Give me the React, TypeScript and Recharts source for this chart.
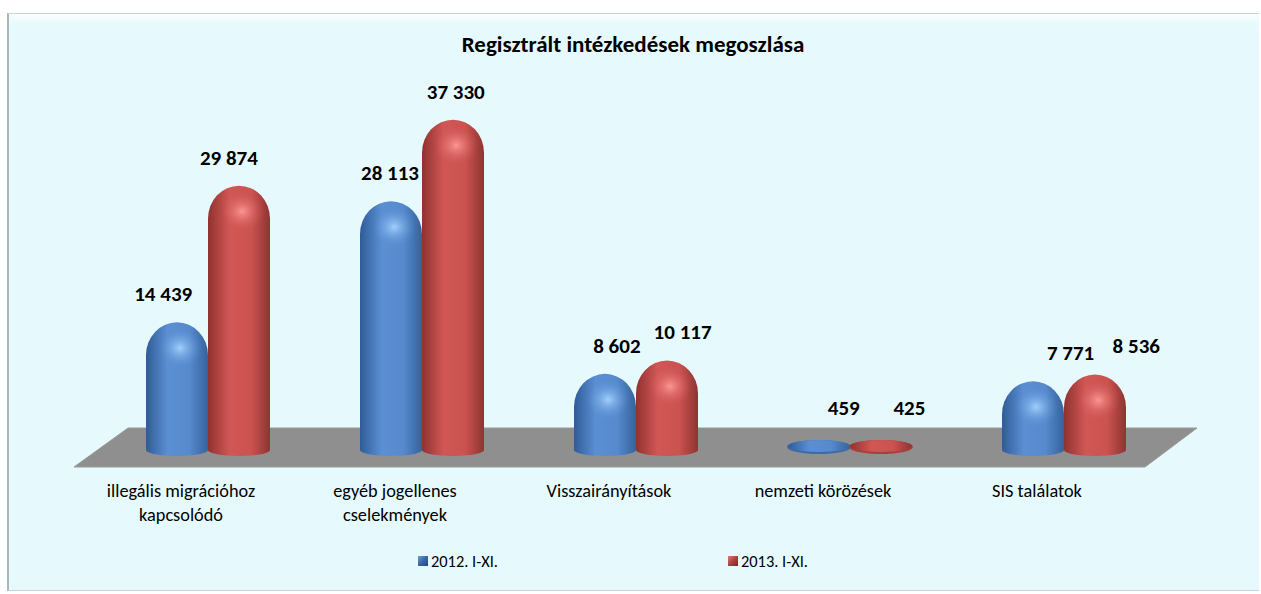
import React from 'react';
import * as Recharts from 'recharts';
import { BarChart, Bar, XAxis, YAxis, LabelList, Legend } from 'recharts';

// categories / series
const categories = [
  'illegális migrációhoz\nkapcsolódó',
  'egyéb jogellenes\ncselekmények',
  'Visszairányítások',
  'nemzeti körözések',
  'SIS találatok',
];
const series2012 = [14439, 28113, 8602, 459, 7771];
const series2013 = [29874, 37330, 10117, 425, 8536];
const seriesNames = ['2012. I-XI.', '2013. I-XI.'];

const data = categories.map((c, i) => ({ name: c, y2012: series2012[i], y2013: series2013[i] }));

const W = 1252;
const H = 578;
const MARGIN = { top: 83, right: 88, bottom: 0, left: 94 };
const FONT = "Carlito, Calibri, 'Liberation Sans', Arial, sans-serif";

const fmt = (v: number) => String(v).replace(/\B(?=(\d{3})+(?!\d))/g, ' ');

const makeShape = (kind: 'b' | 'r') => (props: any) => {
  const { x, y, width: w, height: h } = props;
  if (w == null || isNaN(y)) return null;
  const base = y + h;
  if (h < 12) {
    return (
      <g>
        <ellipse cx={x + w / 2} cy={base - 3} rx={w / 2 + 1} ry={7} fill={kind === 'b' ? '#3d6ba8' : '#a93f3d'} />
        <ellipse cx={x + w / 2} cy={base - 4} rx={w / 2} ry={6} fill={`url(#body-${kind})`} />
      </g>
    );
  }
  const rx = w / 2;
  const ry = Math.min(w / 2 + 2, h);
  const d = `M${x},${y + ry} A${rx},${ry} 0 0 1 ${x + w},${y + ry} L${x + w},${base} A${rx},6 0 0 1 ${x},${base} Z`;
  return (
    <g>
      <path d={d} fill={`url(#body-${kind})`} />
      <ellipse cx={x + w * 0.55} cy={y + ry * 0.78} rx={w * 0.36} ry={ry * 0.62} fill={`url(#hl-${kind})`} />
    </g>
  );
};

// labels drift sideways with the 3D perspective
const ValueLabel = (props: any) => {
  const { x, y, width, height, value } = props;
  const cx = x + width / 2;
  const lift = height < 12 ? 31 : 21;
  return (
    <text x={cx + (cx - 400) * 0.06} y={y - lift} textAnchor="middle" fontFamily={FONT} fontSize={21} fontWeight="bold" fill="#000">
      {fmt(value)}
    </text>
  );
};

const CatTick = (props: any) => {
  const { x, y, payload } = props;
  const lines = String(payload.value).split('\n');
  return (
    <text x={x - 27} y={y + 47} textAnchor="middle" fontFamily={FONT} fontSize={18.3} fill="#000">
      {lines.map((l, i) => (
        <tspan key={i} x={x - 27} dy={i === 0 ? 0 : 24}>{l}</tspan>
      ))}
    </text>
  );
};

const Floor = () => {
  const hook = (Recharts as any).usePlotArea;
  const area = hook ? hook() : null;
  const left = area ? area.x : MARGIN.left;
  const right = area ? area.x + area.width : W - MARGIN.right;
  const bottom = area ? area.y + area.height : 437;
  const pts = [
    [left + 27, bottom - 22],
    [right + 26, bottom - 22],
    [right - 26, bottom + 17],
    [left - 27, bottom + 17],
  ].map(p => p.join(',')).join(' ');
  return <polygon points={pts} fill="#8f8f8f" stroke="#9a9a9a" strokeWidth={1} />;
};

const LegendBox = () => (
  <div style={{ position: 'relative', height: 59, fontFamily: FONT, fontSize: 16.4, color: '#000' }}>
    {seriesNames.map((n, i) => (
      <div key={n} style={{ position: 'absolute', left: i === 0 ? 317 : 627, top: 19, display: 'flex', alignItems: 'center' }}>
        <span style={{
          width: 10, height: 10, marginRight: 3, display: 'inline-block',
          background: i === 0 ? 'linear-gradient(135deg,#6f9be0 0%,#3a66a8 50%,#24487c 100%)' : 'linear-gradient(135deg,#e07a78 0%,#b0403e 50%,#7c2624 100%)',
        }} />
        <span>{n}</span>
      </div>
    ))}
  </div>
);

export default function App() {
  return (
    <div style={{ position: 'absolute', left: 7, top: 13, width: W, height: H }}>
      <div style={{
        position: 'absolute', inset: 0, background: '#e6fafd',
        borderTop: '1px solid #c9d6d8', borderLeft: '2px solid #a7b8bb', borderBottom: '1px solid #c9d6d8',
        boxShadow: 'inset 2px 10px 8px -6px #ffffff',
        boxSizing: 'border-box',
      }} />
      <div style={{
        position: 'absolute', left: 0, width: W, top: 17, textAlign: 'center',
        fontFamily: FONT, fontSize: 23, fontWeight: 'bold', color: '#000',
      }}>
        Regisztrált intézkedések megoszlása
      </div>
      <div style={{ position: 'absolute', left: 0, top: 0 }}>
        <BarChart width={W} height={H} data={data} margin={MARGIN} barSize={62} barGap={0}>
          <defs>
            <linearGradient id="body-b" x1="0" y1="0" x2="1" y2="0">
              <stop offset="0" stopColor="#2f5c97" />
              <stop offset="0.35" stopColor="#5b8fd3" />
              <stop offset="0.7" stopColor="#568acd" />
              <stop offset="1" stopColor="#35629c" />
            </linearGradient>
            <linearGradient id="body-r" x1="0" y1="0" x2="1" y2="0">
              <stop offset="0" stopColor="#903230" />
              <stop offset="0.35" stopColor="#d15755" />
              <stop offset="0.7" stopColor="#ca524f" />
              <stop offset="1" stopColor="#8e3432" />
            </linearGradient>
            <radialGradient id="hl-b">
              <stop offset="0" stopColor="#a6d4ff" stopOpacity={0.95} />
              <stop offset="1" stopColor="#5a8ed2" stopOpacity={0} />
            </radialGradient>
            <radialGradient id="hl-r">
              <stop offset="0" stopColor="#ff9a98" stopOpacity={0.95} />
              <stop offset="1" stopColor="#d05654" stopOpacity={0} />
            </radialGradient>
          </defs>
          <Floor />
          <XAxis dataKey="name" axisLine={false} tickLine={false} tickSize={0} tickMargin={0} height={82} interval={0} tick={<CatTick />} />
          <YAxis hide domain={[0, 40000]} />
          <Legend verticalAlign="bottom" content={<LegendBox />} />
          <Bar dataKey="y2012" name={seriesNames[0]} fill="#4f81bd" shape={makeShape('b')} isAnimationActive={false}>
            <LabelList dataKey="y2012" content={<ValueLabel />} />
          </Bar>
          <Bar dataKey="y2013" name={seriesNames[1]} fill="#c0504d" shape={makeShape('r')} isAnimationActive={false}>
            <LabelList dataKey="y2013" content={<ValueLabel />} />
          </Bar>
        </BarChart>
      </div>
    </div>
  );
}
